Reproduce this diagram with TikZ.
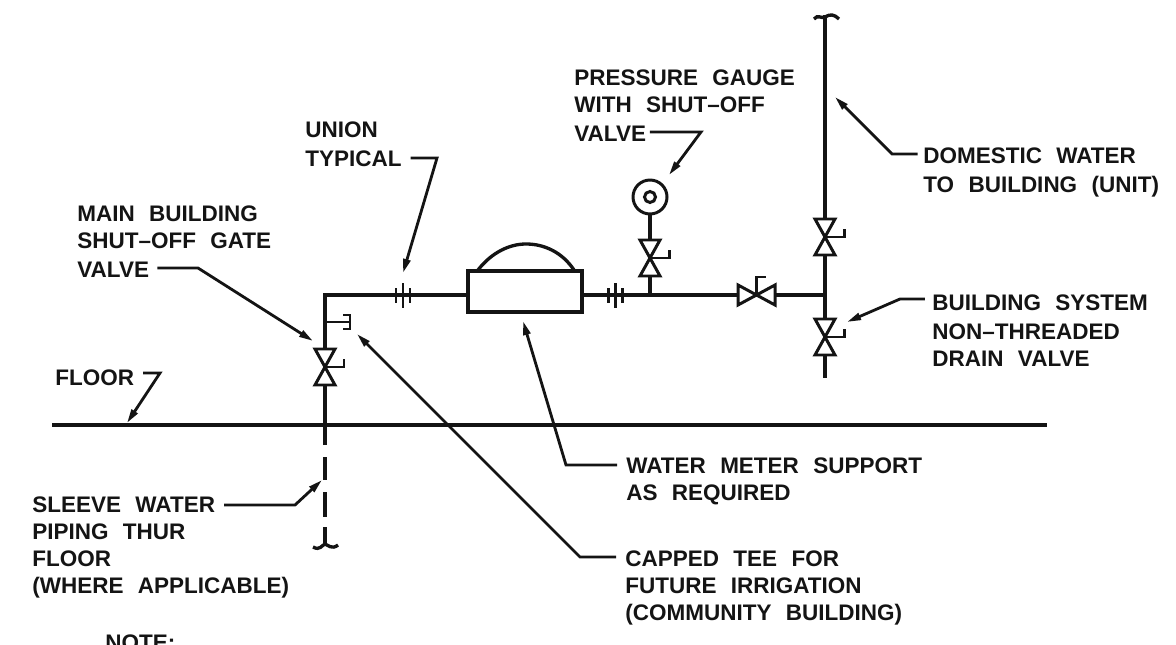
\documentclass[tikz,border=0pt]{standalone}
\usepackage{fontspec}
\setmainfont[WordSpace=2.3]{Liberation Sans}
\usetikzlibrary{calc,arrows.meta}
\definecolor{ink}{HTML}{141414}
\tikzset{
  pipe/.style={draw=ink, line width=1.9pt, line join=miter},
  tee/.style={draw=ink, line width=0.8pt},
  vlv/.style={draw=ink, line width=1.7pt, line join=miter},
  lead/.style={draw=ink, line width=1.6pt, line join=miter, -{Stealth[length=8pt,width=4pt,inset=0pt]}},
  lab/.style={anchor=base west, inner sep=0pt, text=ink, font=\fontsize{12.8}{15}\bfseries\selectfont},
}
\begin{document}
\begin{tikzpicture}[x=0.02cm,y=-0.02cm]
  \useasboundingbox (0,0) rectangle (1176,645);
  % pipe junctions
  \coordinate (corner) at (325,295);
  \coordinate (teeL) at (825,295);
  \coordinate (top) at (825,15);
  \coordinate (end) at (825,378);
  \coordinate (solid) at (325,445);
  % floor
  \coordinate (floorA) at (52,425);
  \coordinate (floorB) at (1047,425);
  \draw[pipe] (floorA)--(floorB);
  % piping
  \draw[pipe] (solid)--(corner)--(teeL);
  \draw[pipe] (top)--(end);
  \draw[pipe] (325,457)--(325,480);
  \draw[pipe] (325,492)--(325,517);
  \draw[pipe] (325,527)--(325,545);
  \draw[pipe] (313,547) .. controls (320,551) and (322,545) .. (325,544) .. controls (328,545) and (332,550) .. (338,545);
  \draw[pipe] (814,19) .. controls (818,14) and (821,19) .. (825,17) .. controls (830,14) and (834,14) .. (839,19);
  % meter
  \node[draw=ink, line width=2.3pt, fill=white, minimum width=2.28cm, minimum height=0.82cm, inner sep=0pt] (meter) at (525,291.5) {};
  \draw[pipe] (478,270) .. controls (492,252) and (510,244) .. (526,244) .. controls (544,244) and (562,252) .. (574,270);
  % unions
  \foreach \X in {403,615} {
    \draw[vlv] (\X-7,288)--(\X-7,303);
    \draw[vlv] (\X,283)--(\X,308);
    \draw[vlv] (\X+7,288)--(\X+7,303);
  }
  % vertical valves
  \draw[pipe] (650,214)--(650,295);
  \foreach \X/\Y in {325/367,650/258,825/237,825/337} {
    \draw[vlv,fill=white] (\X-10,\Y-18)--(\X+10,\Y-18)--(\X-10,\Y+18)--(\X+10,\Y+18)--cycle;
    \draw[vlv] (\X,\Y)--(\X+19,\Y)--(\X+19,\Y-8);
  }
  % horizontal valve
  \draw[vlv,fill=white] (738,285)--(738,305)--(775,285)--(775,305)--cycle;
  \draw[vlv] (756,295)--(756,277)--(766,277);
  % gauge
  \node[circle, draw=ink, line width=1.7pt, fill=white, minimum size=0.68cm, inner sep=0pt] (gauge) at (650,197) {};
  \node[circle, draw=ink, line width=1.7pt, minimum size=0.22cm, inner sep=0pt] (dial) at (gauge) {};
  % capped tee
  \draw[tee] (325,322)--(350,322);
  \draw[tee] (343,315)--(350,315)--(350,329)--(343,329);
  % labels
  \foreach \N/\X/\Y/\T in {
    mainA/77/222/MAIN BUILDING, mainB/77/249/SHUT--OFF GATE, mainC/77/277/VALVE,
    unionA/305/138/UNION, unionB/305/167/TYPICAL,
    pressA/574/86/PRESSURE GAUGE, pressB/574/113/WITH SHUT--OFF, pressC/574/142/VALVE,
    domA/923/164/DOMESTIC WATER, domB/923/193/TO BUILDING (UNIT),
    sysA/932/310/BUILDING SYSTEM, sysB/932/339/NON--THREADED, sysC/932/366/DRAIN VALVE,
    floorT/55/385/FLOOR,
    meterA/626/473/WATER METER SUPPORT, meterB/626/500/AS REQUIRED,
    cappedA/625/566/CAPPED TEE FOR, cappedB/625/593/FUTURE IRRIGATION, cappedC/625/620/(COMMUNITY BUILDING),
    sleeveA/32/512/SLEEVE WATER, sleeveB/32/539/PIPING THUR, sleeveC/32/566/FLOOR, sleeveD/32/593/(WHERE APPLICABLE),
    note/105/650/NOTE:}
    \node[lab] (\N) at (\X,\Y) {\T};
  % leader knees and tips
  \foreach \N/\X/\Y in {
    mainK/198/268, mainP/313/341, unionK/437/158, unionP/403/273,
    pressK/701/132, pressP/669/175, domK/892/154, domP/835/97,
    sysK/900/299, sysP/847/322, meterK/566/465, meterP/523/321,
    cappedK/580/557, cappedP/357/334, sleeveK/295/505, sleeveP/322/480,
    floorK/160/373, floorP/127/423}
    \coordinate (\N) at (\X,\Y);
  % leaders
  \draw[lead] ([xshift=4.5pt]mainC.base east |- mainK) -- (mainK) -- (mainP);
  \draw[lead] ([xshift=5pt]unionB.base east |- unionK) -- (unionK) -- (unionP);
  \draw[lead] ([xshift=2pt]pressC.base east |- pressK) -- (pressK) -- (pressP);
  \draw[lead] ([xshift=-3pt]domA.base west |- domK) -- (domK) -- (domP);
  \draw[lead] ([xshift=-4pt]sysA.base west |- sysK) -- (sysK) -- (sysP);
  \draw[lead] ([xshift=-5pt]meterA.base west |- meterK) -- (meterK) -- (meterP);
  \draw[lead] ([xshift=-5pt]cappedA.base west |- cappedK) -- (cappedK) -- (cappedP);
  \draw[lead] ([xshift=5pt]sleeveA.base east |- sleeveK) -- (sleeveK) -- (sleeveP);
  \draw[lead] ([xshift=5pt]floorT.base east |- floorK) -- (floorK) -- (floorP);
\end{tikzpicture}
\end{document}
